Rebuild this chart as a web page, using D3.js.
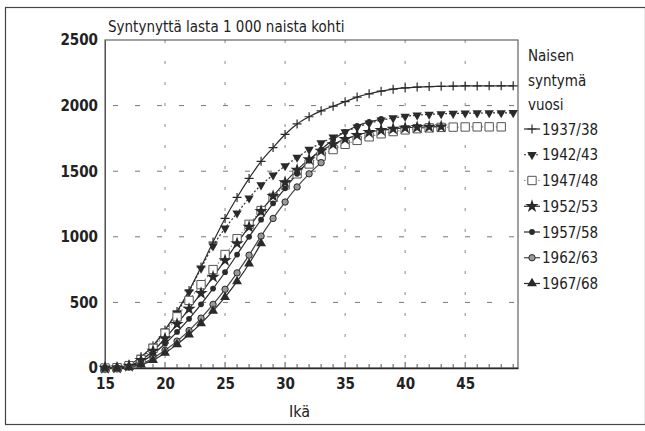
<!DOCTYPE html>
<html><head><meta charset="utf-8">
<script src="https://cdn.jsdelivr.net/npm/d3@7/dist/d3.min.js"></script>
<style>
body{margin:0;background:#fff;}
text{font-family:"Liberation Sans Narrow","DejaVu Sans Condensed","Arial Narrow",sans-serif;fill:#222;}
</style></head>
<body><svg id="c" width="645" height="431"></svg>
<script>
const ages = d3.range(15, 50);
const cohorts = ["1937/38","1942/43","1947/48","1952/53","1957/58","1962/63","1967/68"];
const s1937 = [0,4,25,85,170,290,430,590,770,960,1140,1300,1445,1575,1680,1780,1860,1915,1960,1995,2030,2065,2090,2110,2125,2135,2141,2145,2147,2149,2150,2150,2151,2151,2151];
const s1942 = [0,3,22,80,165,280,420,580,760,930,1065,1180,1295,1395,1470,1540,1605,1665,1715,1760,1800,1835,1865,1888,1905,1918,1927,1933,1937,1940,1942,1943,1944,1944,1945];
const s1947 = [0,3,18,65,150,265,390,515,635,750,865,985,1095,1200,1300,1395,1480,1555,1615,1665,1705,1735,1762,1785,1802,1815,1824,1830,1834,1836,1837,1838,1838,1838];
const s1952 = [0,2,15,60,130,225,335,450,570,695,820,950,1075,1195,1310,1415,1510,1590,1655,1705,1745,1775,1797,1812,1823,1830,1835,1838,1840];
const s1957 = [0,2,12,45,105,185,275,375,485,605,730,865,1000,1130,1255,1370,1480,1580,1665,1740,1800,1845,1875,1898];
const s1962 = [0,1,8,32,75,135,205,285,380,485,600,725,860,1005,1140,1265,1380,1480,1565];
const s1967 = [0,1,6,25,60,115,180,255,340,435,540,660,795,950];
const seriesValues = [s1937,s1942,s1947,s1952,s1957,s1962,s1967];
const yTicks = [0,500,1000,1500,2000,2500];
const xTicks = [15,20,25,30,35,40,45];
const titleText = "Syntynyttä lasta 1 000 naista kohti";
const xLabel = "Ikä";
const legendTitle = ["Naisen","syntymä","vuosi"];

const svg = d3.select("#c");
const x = d3.scaleLinear().domain([15,49.4]).range([105,518]);
const y = d3.scaleLinear().domain([0,2500]).range([368,40]);
const ink = "#2a2a2a";

// outer frame
svg.append("rect").attr("x",5.5).attr("y",7.5).attr("width",640).attr("height",417)
  .attr("fill","none").attr("stroke","#444").attr("stroke-width",1.2);

// grid
const g = svg.append("g");
g.selectAll(".hg").data(yTicks.filter(d=>d>0&&d<2500)).enter().append("line")
  .attr("x1",x(15)).attr("x2",x(49.4)).attr("y1",d=>y(d)).attr("y2",d=>y(d))
  .attr("stroke","#777").attr("stroke-width",1).attr("stroke-dasharray","5,17").attr("stroke-dashoffset",-8);
g.selectAll(".vg").data(xTicks.filter(d=>d>15)).enter().append("line")
  .attr("x1",d=>x(d)).attr("x2",d=>x(d)).attr("y1",y(0)).attr("y2",y(2500))
  .attr("stroke","#888").attr("stroke-width",1).attr("stroke-dasharray","3,18").attr("stroke-dashoffset",-10);

// frame of plot
svg.append("rect").attr("x",x(15)).attr("y",y(2500)).attr("width",x(49.4)-x(15)).attr("height",y(0)-y(2500))
  .attr("fill","none").attr("stroke","#555").attr("stroke-width",1.1);

// x axis
const xAxis = d3.axisBottom(x).tickValues(xTicks).tickSize(0).tickPadding(10).tickFormat(d3.format("d"));
const xa = svg.append("g").attr("transform",`translate(0,${y(0)})`).call(xAxis);
xa.select(".domain").attr("stroke",ink).attr("stroke-width",1.3);
xa.selectAll("text").attr("font-size",15).attr("fill",ink).style("font-weight","bold");
// minor ticks (upwards)
svg.append("g").selectAll("line").data(d3.range(15,50)).enter().append("line")
  .attr("x1",d=>x(d)).attr("x2",d=>x(d)).attr("y1",y(0)).attr("y2",d=>d%5===0?y(0)-6:y(0)-4)
  .attr("stroke","#555").attr("stroke-width",1);

// y axis
const yAxis = d3.axisLeft(y).tickValues(yTicks).tickSize(0).tickPadding(7).tickFormat(d3.format("d"));
const ya = svg.append("g").attr("transform",`translate(${x(15)},0)`).call(yAxis);
ya.select(".domain").attr("stroke","#555");
ya.selectAll("text").attr("font-size",15).attr("fill",ink).style("font-weight","bold");

// title, x label
svg.append("text").attr("x",108).attr("y",32).attr("font-size",15).text(titleText);
svg.append("text").attr("x",x(31.2)).attr("y",417).attr("text-anchor","middle").attr("font-size",16).text(xLabel);

// symbols
const symDefs = [
  {type:d3.symbolCross, size:0, plus:true},
  {type:d3.symbolTriangle, size:38, rot:180, fill:ink},
  {type:d3.symbolSquare, size:70, fill:"#fff", stroke:"#555"},
  {type:d3.symbolStar, size:55, fill:ink},
  {type:d3.symbolCircle, size:26, fill:ink},
  {type:d3.symbolCircle, size:32, fill:"#999", stroke:ink},
  {type:d3.symbolTriangle, size:42, rot:0, fill:ink}
];
const dashes = [null,"2,2","1.5,2",null,null,null,null];
const lineStroke = [ink,"#333","#888",ink,ink,"#444",ink];

function drawMarker(sel, i){
  const d = symDefs[i];
  if(d.plus){
    sel.append("path").attr("d","M-4.5,0H4.5M0,-4.5V4.5").attr("stroke",ink).attr("stroke-width",1.2).attr("fill","none");
  } else {
    sel.append("path").attr("d",d3.symbol().type(d.type).size(d.size)())
      .attr("transform",d.rot?`rotate(${d.rot})`:null)
      .attr("fill",d.fill).attr("stroke",d.stroke||"none").attr("stroke-width",1);
  }
}

const line = d3.line().x(d=>x(d[0])).y(d=>y(d[1])).curve(d3.curveMonotoneX);
seriesValues.forEach((vals,i)=>{
  const pts = vals.map((v,k)=>[ages[k],v]);
  svg.append("path").datum(pts).attr("d",line).attr("fill","none")
    .attr("stroke",lineStroke[i]).attr("stroke-width",1.2).attr("stroke-dasharray",dashes[i]);
});
seriesValues.forEach((vals,i)=>{
  const pts = vals.map((v,k)=>[ages[k],v]);
  svg.append("g").selectAll("g").data(pts).enter().append("g")
    .attr("transform",d=>`translate(${x(d[0])},${y(d[1])})`)
    .each(function(){drawMarker(d3.select(this),i);});
});

// legend
legendTitle.forEach((t,k)=>{
  svg.append("text").attr("x",528).attr("y",61+k*24.5).attr("font-size",15).text(t);
});
const leg = d3.scaleLinear().domain([0,6]).range([129,283.5]);
cohorts.forEach((c,i)=>{
  const gy = leg(i);
  svg.append("line").attr("x1",524).attr("x2",540).attr("y1",gy).attr("y2",gy)
    .attr("stroke",lineStroke[i]).attr("stroke-width",1.2).attr("stroke-dasharray",dashes[i]);
  const m = svg.append("g").attr("transform",`translate(532,${gy})`);
  drawMarker(m,i);
  svg.append("text").attr("x",542).attr("y",gy+5.5).attr("font-size",15).text(c);
});
</script></body></html>
